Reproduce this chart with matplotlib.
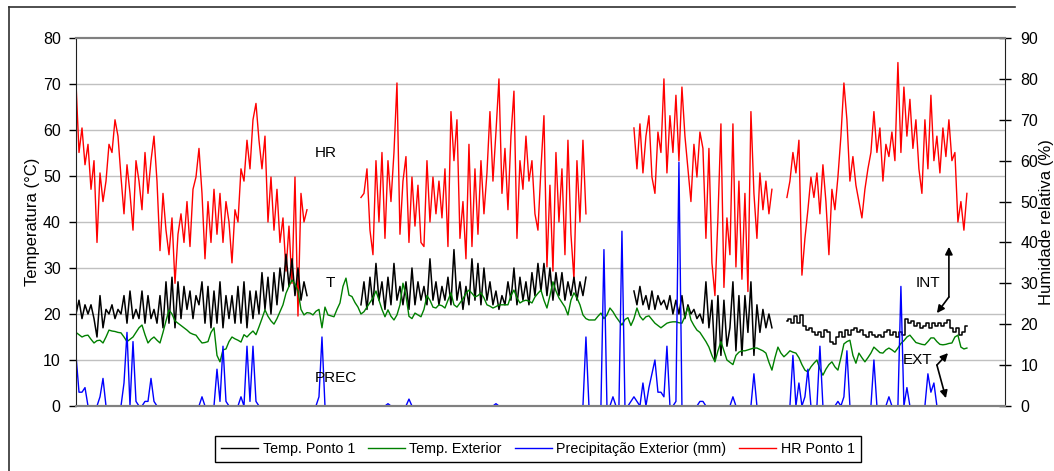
import numpy as np
import matplotlib
matplotlib.use('Agg')
import matplotlib.pyplot as plt
from matplotlib.lines import Line2D

plt.rcParams['font.family'] = ['Liberation Sans', 'DejaVu Sans']

# sample index where each measured block of "Ponto 1" starts (gaps = no data)
seg_start = [0, 95, 186, 237]

# HR Ponto 1 (%)
hr_a = [79, 62, 68, 59, 64, 53, 60, 40, 57, 50, 55, 64, 62, 70, 66, 56, 47, 59, 52, 43,
        60, 55, 48, 62, 52, 60, 66, 55, 38, 52, 43, 37, 46, 30, 42, 47, 40, 50, 39, 53,
        56, 63, 52, 36, 50, 40, 53, 42, 52, 40, 50, 45, 35, 48, 45, 58, 55, 65, 58, 70,
        74, 65, 58, 66, 45, 56, 43, 53, 40, 46, 33, 44, 30, 56, 22, 52, 45, 48]
hr_b = [51, 52, 58, 43, 37, 60, 45, 62, 41, 60, 50, 62, 79, 42, 55, 61, 40, 56, 44, 54,
        40, 39, 60, 45, 56, 47, 55, 46, 58, 39, 72, 60, 70, 41, 50, 36, 64, 39, 58, 42,
        60, 47, 57, 72, 55, 67, 80, 52, 63, 48, 66, 77, 41, 60, 53, 66, 55, 60, 47, 43,
        58, 71, 34, 54, 33, 62, 45, 58, 37, 65, 42, 31, 60, 45, 65, 47]
hr_c = [68, 58, 69, 57, 66, 71, 56, 52, 67, 62, 80, 57, 71, 62, 76, 60, 78, 66, 58, 50,
        64, 56, 67, 63, 41, 63, 35, 27, 46, 69, 29, 46, 37, 69, 34, 55, 31, 52, 28, 72,
        52, 41, 57, 48, 55, 47, 53]
hr_d = [51, 55, 62, 57, 65, 32, 41, 48, 56, 51, 57, 47, 59, 50, 37, 53, 48, 56, 66, 79,
        70, 55, 61, 54, 50, 46, 53, 58, 62, 72, 62, 68, 55, 64, 61, 67, 60, 84, 62, 78,
        66, 75, 63, 70, 58, 52, 70, 58, 76, 60, 66, 57, 68, 61, 70, 60, 62, 45, 50, 43,
        52]

# Temp. Ponto 1 (°C)
t_a = [20, 23, 19, 22, 20, 22, 19, 15, 24, 17, 21, 20, 22, 19, 21, 20, 24, 18, 25, 19,
       21, 19, 25, 18, 24, 19, 21, 18, 24, 17, 27, 18, 28, 17, 27, 19, 26, 21, 25, 19,
       24, 22, 27, 18, 26, 17, 25, 18, 27, 17, 24, 19, 24, 18, 26, 18, 27, 17, 25, 19,
       25, 20, 29, 21, 28, 20, 29, 22, 30, 25, 33, 26, 32, 24, 30, 23, 27, 24]
t_b = [22, 27, 21, 28, 22, 31, 23, 27, 21, 28, 22, 31, 23, 26, 22, 27, 21, 30, 22, 27,
       23, 26, 22, 32, 23, 27, 22, 26, 23, 28, 22, 34, 23, 27, 21, 26, 22, 32, 23, 31,
       22, 30, 23, 27, 22, 25, 21, 24, 22, 27, 23, 30, 22, 28, 23, 27, 22, 29, 24, 31,
       25, 31, 24, 30, 23, 29, 24, 29, 23, 27, 24, 28, 23, 27, 24, 28]
t_c = [25, 22, 26, 22, 24, 21, 25, 21, 24, 22, 23, 21, 24, 20, 23, 20, 24, 19, 22, 20,
       21, 19, 20, 18, 27, 17, 23, 10, 24, 11, 23, 13, 17, 27, 12, 24, 11, 24, 16, 27,
       11, 22, 16, 21, 17, 20, 17]
t_d = [18.5, 19, 18, 19.5, 18, 19.8, 17.5, 16.5, 17, 16, 15.5, 16, 15, 16.5, 16, 14, 13.5,
       15, 16, 15, 16.5, 15.5, 16.5, 17, 16, 16.5, 15.5, 15, 16, 15.5, 15, 15.5, 15, 16,
       16.5, 15.5, 16, 15, 16, 15.5, 19, 18, 18.5, 17.5, 18, 17, 17.5, 18, 17, 18, 17.5,
       18, 17.5, 18, 18.7, 17, 16, 17, 15.5, 16, 17.5]

# Temp. Exterior (°C)
t_ext = [16, 15.5, 15, 15.3, 15.4, 14.5, 13.7, 14.2, 14.3, 13.7, 15,
         16.5, 16.3, 16.2, 16, 15.9, 15, 14, 14.5, 15, 16, 17,
         17.6, 15.5, 13.7, 14.5, 15, 14.3, 13.7, 16, 18.5, 20.9, 20,
         18.5, 18, 17.5, 17, 16.5, 15.9, 15.6, 15.4, 14.5, 13.7, 13.8,
         14, 16, 17, 11, 9.6, 12.2, 12.4, 14, 15, 14.6, 14.3,
         13.9, 15.5, 15, 15.7, 16.3, 15.5, 17.2, 19, 20.9, 19.5, 18.5,
         17.8, 19, 20.5, 22, 24.5, 26, 27.4, 26.5, 25, 21, 19.8,
         20.3, 20.2, 19.8, 20.6, 21, 17, 21.5, 19.8, 19.6, 19.4, 21,
         22.4, 26, 27.8, 24.1, 23.8, 22.5, 21.5, 20, 20.5, 21.5, 22.5,
         23.5, 25, 23, 21, 19.4, 20.9, 19.5, 18.7, 19.8, 22, 26.7,
         24, 19.5, 19, 20.2, 19.8, 19.4, 21, 24, 23, 21.5, 21.3,
         22, 21.8, 21.3, 23, 24.6, 22, 21.5, 22.4, 23.3, 24.5, 25.2,
         24.5, 23.7, 24, 24.6, 23.5, 22, 21.7, 21.3, 21.6, 22, 22,
         22, 22, 24, 25.2, 23.5, 22.4, 22.8, 23, 22.8, 22.4, 23.7,
         24.5, 25.2, 23, 21.3, 24, 27, 25, 23.5, 22.5, 21.5, 19.8,
         23, 24.6, 23.5, 22, 19.8, 19, 18.7, 18.7, 18.7, 19.5, 20.2,
         19, 19.8, 21.3, 20.5, 19.4, 18.5, 17.6, 18.8, 19.2, 17.5, 19,
         21.3, 19.5, 18.7, 19.4, 19.6, 18.8, 18, 17.5, 17, 17.5, 18,
         18.2, 18.3, 18.3, 18.1, 18, 19.5, 21.5, 18.7, 17.5, 16.5, 16,
         15, 14, 12.8, 11, 9.6, 12, 14, 12, 10, 9.5, 9,
         11, 11.7, 12, 12, 12.2, 12.4, 12.6, 12.6, 12.3, 12, 11.5,
         9.5, 7.8, 10.5, 12.8, 11.5, 10.7, 11.3, 12, 11.7, 11.5, 10.5,
         9, 7.8, 7.4, 8.5, 9.3, 10, 8, 6.7, 8, 9, 9.6,
         8.5, 7.8, 10.5, 13.5, 14, 14.3, 11, 9.3, 11.5, 10.5, 9.6,
         10.5, 11.5, 12.8, 12.2, 11.6, 11.5, 12.2, 12.6, 12.2, 11.7, 12.6,
         13.6, 14.2, 15, 15.4, 14.6, 13.8, 13.6, 13.4, 13.3, 14, 14.8,
         14.8, 14, 13.4, 13.3, 13.4, 13.6, 13.7, 15, 15.4, 12.8, 12.4,
         12.6]

# Precipitação Exterior (mm)
prec = ([11, 3, 3, 4, 0, 0, 0, 0, 2, 6] + [0] * 6 + [5, 16, 0, 14, 1, 0, 0, 1, 1, 6, 1]
        + [0] * 15 + [2] + [0] * 4 + [8, 1, 13, 1] + [0] * 4 + [2, 0, 13, 1, 13, 1]
        + [0] * 20 + [2, 15] + [0] * 21 + [0.5] + [0] * 6 + [1.5] + [0] * 28 + [0.5]
        + [0] * 29 + [15] + [0] * 5
        + [34, 0, 0, 2, 0, 0, 38, 0, 0, 1, 2, 1, 0, 5, 0, 4, 7, 10, 3, 3, 2, 13, 0, 0, 1, 53]
        + [0] * 6 + [1, 1] + [0] * 9 + [2] + [0] * 6 + [7] + [0] * 12
        + [11, 0, 5, 0, 2, 8, 0, 0, 0, 13] + [0] * 5 + [1, 0, 2, 12] + [0] * 8 + [10]
        + [0] * 4 + [2] + [0] * 3 + [26, 0, 4] + [0] * 6 + [7, 3, 5] + [0] * 11)

hr_segs = [hr_a, hr_b, hr_c, hr_d]
t_segs = [t_a, t_b, t_c, t_d]

W, H = 1054, 471
fig = plt.figure(figsize=(W / 100, H / 100), dpi=100)
ax = fig.add_axes([76 / W, 65 / H, 929 / W, 368 / H])
ax2 = ax.twinx()
ax.set_zorder(ax2.get_zorder() + 1)
ax.patch.set_visible(False)

# grid (drawn in the lower axes so the data sits on top)
for v in range(10, 80, 10):
    ax2.axhline(v * 9 / 8, color='#c0c0c0', lw=1.0, zorder=0)

for start, seg in zip(seg_start, hr_segs):
    ax2.plot(np.arange(start, start + len(seg)), seg, color='#ff0000', lw=1.0)
for k, (start, seg) in enumerate(zip(seg_start, t_segs)):
    # last block is much calmer and shows as small steps in the original
    ax.plot(np.arange(start, start + len(seg)), seg, color='black', lw=1.1,
            drawstyle='steps-mid' if k == 3 else 'default')
ax.plot(np.arange(len(t_ext)), t_ext, color='#008000', lw=1.0)
ax.plot(np.arange(len(prec)), prec, color='#0000ff', lw=1.0)

ax.set_xlim(0, 309.7)
ax.set_ylim(0, 80)
ax2.set_ylim(0, 90)
ax.set_xticks([])
ax.set_yticks(range(0, 81, 10))
ax2.set_yticks(range(0, 91, 10))
ax.tick_params(axis='y', direction='out', length=5, width=1, pad=6, labelsize=11.5)
ax2.tick_params(axis='y', direction='inout', length=8, width=1, pad=7, labelsize=11.5)

for a in (ax, ax2):
    a.spines['top'].set_color('#808080')
    a.spines['top'].set_linewidth(1.5)
    a.spines['bottom'].set_color('#808080')
    a.spines['bottom'].set_linewidth(1.5)
ax.spines['right'].set_visible(False)
ax2.spines['left'].set_visible(False)
ax.spines['left'].set_color('#202020')
ax2.spines['right'].set_color('#202020')

ax.set_ylabel('Temperatura (°C)', fontsize=12)
ax.yaxis.set_label_coords(-0.039, 0.5)
ax2.set_ylabel('Humidade relativa (%)', fontsize=12)
ax2.yaxis.set_label_coords(1.037, 0.5)

# text labels and arrows
ax.text(83.3, 55, 'HR', fontsize=11, ha='center', va='center')
ax.text(84.7, 26.7, 'T', fontsize=11, ha='center', va='center')
ax.text(86.7, 6.1, 'PREC', fontsize=11, ha='center', va='center')
ax.text(284, 26.7, 'INT', fontsize=11, ha='center', va='center')
ax.text(280.7, 10, 'EXT', fontsize=11, ha='center', va='center')
arrow = dict(arrowstyle='-|>', color='black', lw=1.2, mutation_scale=11,
             shrinkA=0, shrinkB=0)
ax.annotate('', xy=(291, 34.6), xytext=(291, 23.7), arrowprops=arrow)
ax.annotate('', xy=(287, 20.2), xytext=(291, 23.7), arrowprops=arrow)
ax.annotate('', xy=(290.7, 11.5), xytext=(287, 8.9), arrowprops=arrow)
ax.annotate('', xy=(290, 1.7), xytext=(287, 8.9), arrowprops=arrow)

# legend
handles = [Line2D([], [], color='black', lw=1),
           Line2D([], [], color='#008000', lw=1),
           Line2D([], [], color='#0000ff', lw=1),
           Line2D([], [], color='#ff0000', lw=1)]
labels = ['Temp. Ponto 1', 'Temp. Exterior', 'Precipitação Exterior (mm)', 'HR Ponto 1']
leg = fig.legend(handles, labels, loc='center', bbox_to_anchor=(538 / W, 22 / H),
                 ncol=4, fontsize=10.3, frameon=True, fancybox=False,
                 edgecolor='black', framealpha=1, handlelength=2.6,
                 handletextpad=0.3, columnspacing=0.9, borderpad=0.4)
leg.get_frame().set_linewidth(1.0)

# outer chart frame
fig.add_artist(Line2D([9 / W, 9 / W], [0, 1 - 7 / H], color='#303030', lw=1.2))
fig.add_artist(Line2D([9 / W, 1015 / W], [1 - 7 / H, 1 - 7 / H], color='#303030', lw=1.2))

fig.savefig('out.png', dpi=100)
